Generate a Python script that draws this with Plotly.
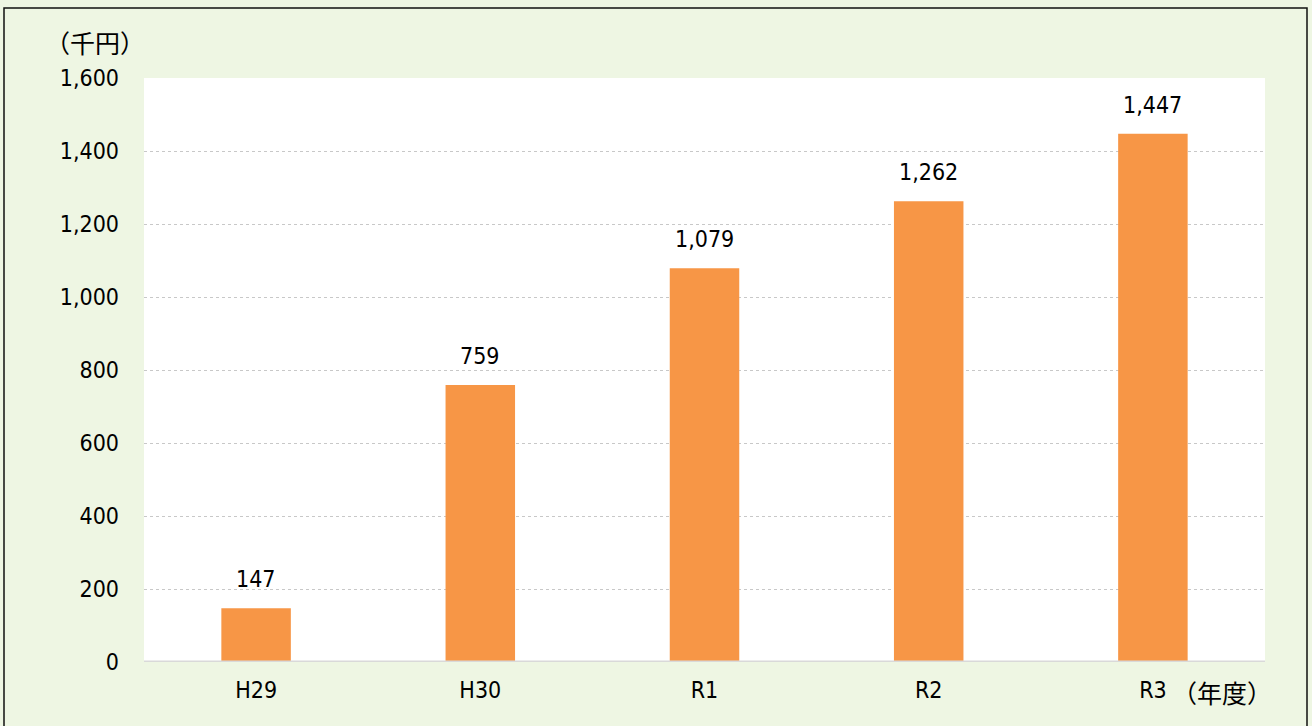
import plotly.graph_objects as go

categories = ["H29", "H30", "R1", "R2", "R3"]
values = [147, 759, 1079, 1262, 1447]
value_labels = ["147", "759", "1,079", "1,262", "1,447"]
y_ticks = [0, 200, 400, 600, 800, 1000, 1200, 1400, 1600]
y_tick_labels = ["0", "200", "400", "600", "800", "1,000", "1,200", "1,400", "1,600"]

W, H = 1312, 726
L, R, T, B = 144, 47, 78, 64
pw, ph = W - L - R, H - T - B

def px_x(p):
    return (p - L) / pw

def px_y(p):
    return (H - B - p) / ph

num_font = "'Liberation Sans Narrow', 'DejaVu Sans Condensed', sans-serif"
cjk_font = "'Noto Sans CJK JP', sans-serif"

fig = go.Figure(go.Bar(
    x=categories, y=values, marker=dict(color="#f79646", line=dict(width=0)),
    width=0.31, hoverinfo="x+y",
))

for c, v, t in zip(categories, values, value_labels):
    fig.add_annotation(x=c, y=v, text=t, showarrow=False, xanchor="center",
                       yanchor="bottom", yshift=14,
                       font=dict(size=23, color="#000", family=num_font))

fig.update_layout(
    width=W, height=H, margin=dict(l=L, r=R, t=T, b=B),
    paper_bgcolor="#eef6e3", plot_bgcolor="#ffffff",
    showlegend=False, font=dict(family=num_font, color="#000"),
    xaxis=dict(showgrid=False, showline=False, ticks="", tickfont=dict(size=23),
               range=[-0.5, 4.5], ticklabelstandoff=12),
    yaxis=dict(range=[0, 1600], tickvals=y_ticks, ticktext=y_tick_labels,
               tickfont=dict(size=23), showgrid=True, gridcolor="#c8c8c8",
               griddash="dot", gridwidth=1, zeroline=False, ticks="",
               ticklabelstandoff=24),
)

# zero baseline
fig.add_shape(type="line", xref="paper", yref="y", x0=0, x1=1, y0=0, y1=0,
              line=dict(color="#d9d9d9", width=3), layer="above")
# outer border
fig.add_shape(type="rect", xref="paper", yref="paper",
              x0=px_x(4), x1=px_x(1307), y0=px_y(740), y1=px_y(8),
              line=dict(color="#111", width=1.5), layer="below")

fig.add_annotation(text="（千円）", xref="paper", yref="paper",
                   x=px_x(95), y=px_y(42), showarrow=False,
                   xanchor="center", yanchor="middle",
                   font=dict(size=25, color="#000", family=cjk_font))
fig.add_annotation(text="（年度）", xref="paper", yref="paper",
                   x=px_x(1222), y=px_y(692), showarrow=False,
                   xanchor="center", yanchor="middle",
                   font=dict(size=25, color="#000", family=cjk_font))

fig.write_html("out.html", config={"displayModeBar": False},
               post_script="document.body.style.margin='0';")
